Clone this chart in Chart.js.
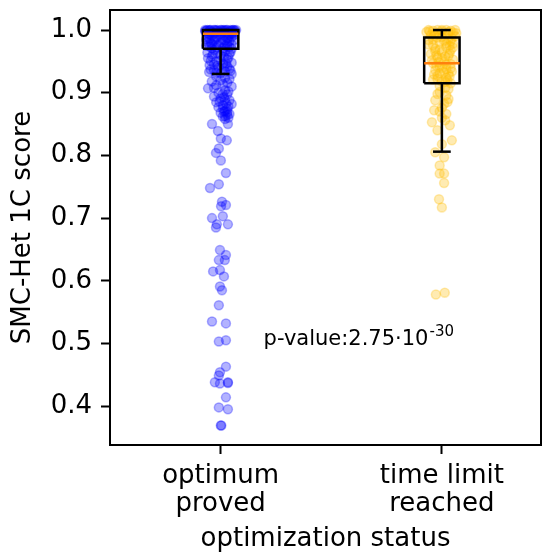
<!DOCTYPE html>
<html>
<head>
<meta charset="utf-8">
<script src="https://cdn.jsdelivr.net/npm/chart.js@4.4.1/dist/chart.umd.min.js"></script>
<style>
    html, body { margin: 0; padding: 0; background: #ffffff; }
    #wrap { width: 547px; height: 559px; }
</style>
</head>
<body>
<div id="wrap"><canvas id="statusChart"></canvas></div>
<script>
// categories and axis ticks
const categories = [['optimum', 'proved'], ['time limit', 'reached']];
const categoryPositions = [1, 2];
const yTicks = [0.4, 0.5, 0.6, 0.7, 0.8, 0.9, 1.0];

// box plot statistics per category
const boxQ1 = [0.970, 0.915];
const boxMedian = [0.994, 0.947];
const boxQ3 = [1.000, 0.988];
const whiskerLow = [0.930, 0.806];
const whiskerHigh = [1.000, 1.000];

// individual scores: [score, horizontal jitter in category units]
const optimumScores = [
    [1.000, -0.06], [1.000, -0.03], [1.000, 0.00], [1.000, 0.03], [1.000, 0.06],
    [1.000, -0.045], [1.000, -0.015], [1.000, 0.015], [1.000, 0.045], [1.000, 0.07],
    [1.000, -0.07], [1.000, -0.05], [1.000, -0.025], [1.000, 0.005], [1.000, 0.025],
    [1.000, 0.055], [0.999, -0.065], [0.999, -0.02], [0.999, 0.01], [0.999, 0.065],
    [0.999, -0.05], [0.999, 0.02], [0.999, 0.05], [0.998, -0.07], [0.998, -0.01],
    [0.998, 0.04], [0.997, -0.04], [0.997, 0.01], [0.997, 0.06], [0.996, -0.02],
    [0.996, 0.03], [0.995, -0.06], [0.995, 0.00], [0.995, 0.05], [0.994, -0.03],
    [0.994, 0.02], [0.993, -0.05], [0.993, 0.04], [0.992, -0.01], [0.992, 0.06],
    [0.991, -0.04], [0.990, 0.02], [0.990, -0.06], [0.989, 0.05], [0.988, -0.02],
    [0.987, 0.03], [0.986, -0.05], [0.985, 0.01], [0.984, 0.06], [0.983, -0.03],
    [0.982, 0.04], [0.981, -0.06], [0.980, 0.00], [0.979, 0.03], [0.978, -0.04],
    [0.977, 0.05], [0.976, -0.01], [0.975, 0.02], [0.974, -0.05], [0.973, 0.04],
    [0.972, -0.02], [0.971, 0.01], [0.970, 0.05], [0.985, -0.065], [0.975, -0.065],
    [0.996, -0.045], [0.994, 0.055], [0.991, 0.00], [0.988, 0.035], [0.986, -0.025],
    [0.983, 0.02], [0.980, -0.045], [0.977, -0.02], [0.974, 0.03], [0.971, -0.04],
    [0.968, -0.03], [0.966, 0.02], [0.964, -0.06], [0.962, 0.04], [0.960, 0.00],
    [0.958, -0.04], [0.955, -0.057], [0.953, 0.03], [0.950, -0.02], [0.948, 0.05],
    [0.946, 0.01], [0.944, -0.05], [0.942, 0.03], [0.940, -0.01], [0.938, 0.04],
    [0.936, -0.03], [0.934, 0.02], [0.933, -0.052], [0.931, 0.00], [0.930, 0.05],
    [0.967, 0.01], [0.963, -0.015], [0.957, 0.015], [0.952, 0.00], [0.945, -0.03],
    [0.939, 0.015], [0.935, 0.045], [0.932, -0.02], [0.965, 0.045], [0.961, -0.035],
    [0.956, 0.035], [0.951, -0.045], [0.947, 0.025], [0.943, -0.015], [0.937, -0.045],
    [0.926, -0.02], [0.922, 0.04], [0.918, -0.04], [0.914, 0.01], [0.910, 0.05],
    [0.907, -0.057], [0.904, 0.02], [0.900, -0.01], [0.897, 0.03], [0.894, -0.03],
    [0.891, 0.00], [0.888, 0.04], [0.885, -0.02], [0.882, 0.05], [0.880, 0.01],
    [0.877, -0.01], [0.874, 0.03], [0.871, 0.02], [0.868, 0.00], [0.865, 0.03],
    [0.862, 0.01], [0.858, 0.02], [0.920, 0.00], [0.912, -0.02], [0.902, 0.035],
    [0.893, 0.015], [0.886, -0.005], [0.878, 0.035], [0.870, 0.015], [0.866, 0.04],
    [0.924, 0.02], [0.916, 0.03], [0.908, -0.03], [0.898, 0.01], [0.889, 0.02],
    [0.883, 0.025], [0.875, 0.01], [0.869, 0.03], [0.863, 0.02], [0.860, 0.035],
    [0.850, -0.039], [0.850, 0.033], [0.839, -0.012], [0.827, 0.001], [0.824, 0.028],
    [0.811, -0.008], [0.804, -0.021], [0.792, 0.001], [0.772, 0.024], [0.754, -0.008],
    [0.748, -0.048], [0.726, 0.006], [0.721, 0.024], [0.719, 0.002], [0.703, 0.010],
    [0.700, -0.039], [0.690, -0.017], [0.690, 0.033], [0.685, -0.021], [0.649, -0.003],
    [0.641, 0.024], [0.633, -0.008], [0.633, 0.019], [0.617, -0.003], [0.615, -0.034],
    [0.607, 0.015], [0.591, -0.003], [0.585, 0.006], [0.561, -0.008], [0.535, -0.039],
    [0.532, 0.024], [0.505, 0.024], [0.503, -0.008], [0.463, 0.024], [0.454, -0.003],
    [0.449, -0.008], [0.438, -0.026], [0.436, -0.003], [0.438, 0.033], [0.437, 0.033],
    [0.414, 0.024], [0.398, -0.008], [0.395, 0.033], [0.369, 0.001], [0.369, 0.003],
];

const timeLimitScores = [
    [1.000, -0.06], [1.000, -0.02], [1.000, 0.02], [1.000, 0.06], [0.999, -0.04],
    [0.999, 0.04], [0.998, 0.00], [0.997, -0.07], [0.996, 0.05], [0.995, -0.03],
    [0.994, 0.02], [0.992, -0.05], [0.990, 0.06], [0.989, 0.00], [0.988, -0.02],
    [0.986, 0.03], [0.984, -0.06], [0.982, 0.04], [0.980, -0.01], [0.978, 0.05],
    [0.976, -0.04], [0.973, 0.02], [0.970, -0.03], [0.968, 0.04], [0.965, 0.00],
    [0.962, -0.05], [0.959, 0.03], [0.956, -0.02], [0.953, 0.05], [0.950, 0.01],
    [0.947, -0.04], [0.945, 0.02], [0.942, -0.01], [0.939, 0.04], [0.936, -0.03],
    [0.933, 0.01], [0.930, 0.03], [0.927, -0.02], [0.924, 0.02], [0.921, -0.04],
    [0.918, 0.00], [0.915, 0.04], [0.997, 0.03], [0.991, -0.035], [0.983, 0.01],
    [0.975, 0.035], [0.966, -0.03], [0.958, 0.015], [0.949, -0.015], [0.938, 0.02],
    [0.929, -0.035], [0.920, 0.025], [1.000, 0.00], [0.998, -0.055], [0.995, 0.065],
    [0.993, -0.01], [0.987, 0.045], [0.985, -0.04], [0.979, 0.02], [0.977, -0.06],
    [0.972, 0.05], [0.969, -0.01], [0.963, 0.035], [0.960, -0.025], [0.955, 0.00],
    [0.952, -0.045], [0.946, 0.04], [0.943, -0.025], [0.940, 0.00], [0.934, 0.045],
    [0.931, -0.01], [0.926, 0.035], [0.922, -0.02], [0.917, 0.015],
    [0.911, -0.01], [0.906, 0.03], [0.901, -0.01], [0.896, 0.02], [0.890, 0.03],
    [0.888, -0.03], [0.882, 0.01], [0.876, 0.00], [0.872, -0.035], [0.866, 0.02],
    [0.860, 0.00], [0.853, -0.045], [0.848, 0.036], [0.840, -0.02], [0.824, 0.045],
    [0.908, 0.015], [0.898, -0.02], [0.885, 0.025], [0.870, -0.01], [0.856, 0.015],
    [0.818, 0.00], [0.805, -0.03], [0.797, 0.01], [0.784, -0.01], [0.771, 0.01],
    [0.771, -0.01], [0.756, 0.01], [0.730, -0.013], [0.717, 0.00], [0.581, 0.013],
    [0.578, -0.027],
];

const pValueBase = 'p-value:2.75\u00b710';
const pValueExponent = '-30';

const FONT = 'DejaVu Sans, Verdana, sans-serif';
const BOX_HALF = 0.08;
const CAP_HALF = 0.04;

function toPoints(scores, center) {
    return scores.map(([score, jitter]) => ({ x: center + jitter, y: score }));
}

function blackLine(data) {
    return {
        type: 'scatter',
        data: data,
        showLine: true,
        borderColor: '#000000',
        borderWidth: 2.5,
        pointRadius: 0,
        fill: false,
        order: 0,
    };
}

function boxDatasets(i) {
    const c = categoryPositions[i];
    return [
        blackLine([
            { x: c - BOX_HALF, y: boxQ1[i] },
            { x: c + BOX_HALF, y: boxQ1[i] },
            { x: c + BOX_HALF, y: boxQ3[i] },
            { x: c - BOX_HALF, y: boxQ3[i] },
            { x: c - BOX_HALF, y: boxQ1[i] },
        ]),
        blackLine([{ x: c, y: boxQ1[i] }, { x: c, y: whiskerLow[i] }]),
        blackLine([{ x: c, y: boxQ3[i] }, { x: c, y: whiskerHigh[i] }]),
        blackLine([{ x: c - CAP_HALF, y: whiskerLow[i] }, { x: c + CAP_HALF, y: whiskerLow[i] }]),
        blackLine([{ x: c - CAP_HALF, y: whiskerHigh[i] }, { x: c + CAP_HALF, y: whiskerHigh[i] }]),
        {
            type: 'scatter',
            data: [{ x: c - BOX_HALF, y: boxMedian[i] }, { x: c + BOX_HALF, y: boxMedian[i] }],
            showLine: true,
            borderColor: '#ff7f0e',
            borderWidth: 2.5,
            pointRadius: 0,
            order: -1,
        },
    ];
}

const framePlugin = {
    id: 'frame',
    afterDatasetsDraw(chart) {
        const { ctx, chartArea, scales } = chart;
        ctx.save();
        ctx.strokeStyle = '#000000';
        ctx.lineWidth = 2;
        ctx.strokeRect(chartArea.left, chartArea.top,
            chartArea.right - chartArea.left, chartArea.bottom - chartArea.top);

        // p-value annotation
        const px = scales.x.getPixelForValue(1.194);
        const py = scales.y.getPixelForValue(0.506);
        ctx.fillStyle = '#000000';
        ctx.textBaseline = 'middle';
        ctx.textAlign = 'left';
        ctx.font = '21px ' + FONT;
        ctx.fillText(pValueBase, px, py);
        const w = ctx.measureText(pValueBase).width;
        ctx.font = '15px ' + FONT;
        ctx.fillText(pValueExponent, px + w + 1, py - 8);
        ctx.restore();
    },
};

new Chart(document.getElementById('statusChart'), {
    type: 'scatter',
    data: {
        datasets: [
            {
                data: toPoints(optimumScores, categoryPositions[0]),
                backgroundColor: 'rgba(0, 0, 255, 0.3)',
                borderColor: 'rgba(0, 0, 255, 0.3)',
                borderWidth: 1.5,
                pointRadius: 4.5,
                order: 2,
            },
            {
                data: toPoints(timeLimitScores, categoryPositions[1]),
                backgroundColor: 'rgba(255, 190, 0, 0.3)',
                borderColor: 'rgba(255, 190, 0, 0.3)',
                borderWidth: 1.5,
                pointRadius: 4.5,
                order: 2,
            },
            ...boxDatasets(0),
            ...boxDatasets(1),
        ],
    },
    options: {
        responsive: true,
        maintainAspectRatio: false,
        animation: false,
        layout: { padding: { top: 10, right: 2, left: 0, bottom: 0 } },
        plugins: {
            legend: { display: false },
            tooltip: { enabled: false },
        },
        scales: {
            x: {
                type: 'linear',
                min: 0.5,
                max: 2.448,
                afterFit: (scale) => {
                    scale.height = 114;
                    scale.paddingLeft = 0;
                    scale.paddingRight = 0;
                },
                afterBuildTicks: (scale) => {
                    scale.ticks = categoryPositions.map((v) => ({ value: v }));
                },
                ticks: {
                    color: '#000000',
                    padding: 8,
                    maxRotation: 0,
                    font: { family: FONT, size: 26, lineHeight: 1.08 },
                    callback: (value) => categories[categoryPositions.indexOf(value)],
                },
                grid: {
                    drawOnChartArea: false,
                    drawTicks: true,
                    tickLength: 9,
                    tickWidth: 2,
                    tickColor: '#000000',
                },
                border: { display: false },
                title: {
                    display: true,
                    text: 'optimization status',
                    color: '#000000',
                    padding: { top: 0, bottom: 4 },
                    font: { family: FONT, size: 26, lineHeight: 1.2 },
                },
            },
            y: {
                min: 0.338,
                max: 1.032,
                afterFit: (scale) => {
                    scale.width = 110;
                    scale.paddingTop = 0;
                    scale.paddingBottom = 0;
                },
                afterBuildTicks: (scale) => {
                    scale.ticks = yTicks.map((v) => ({ value: v }));
                },
                ticks: {
                    color: '#000000',
                    padding: 9,
                    font: { family: FONT, size: 26 },
                    callback: (value) => value.toFixed(1),
                },
                grid: {
                    drawOnChartArea: false,
                    drawTicks: true,
                    tickLength: 9,
                    tickWidth: 2,
                    tickColor: '#000000',
                },
                border: { display: false },
                title: {
                    display: true,
                    text: 'SMC-Het 1C score',
                    color: '#000000',
                    padding: { top: 8, bottom: 0 },
                    font: { family: FONT, size: 26, lineHeight: 1.2 },
                },
            },
        },
    },
    plugins: [framePlugin],
});
</script>
</body>
</html>
